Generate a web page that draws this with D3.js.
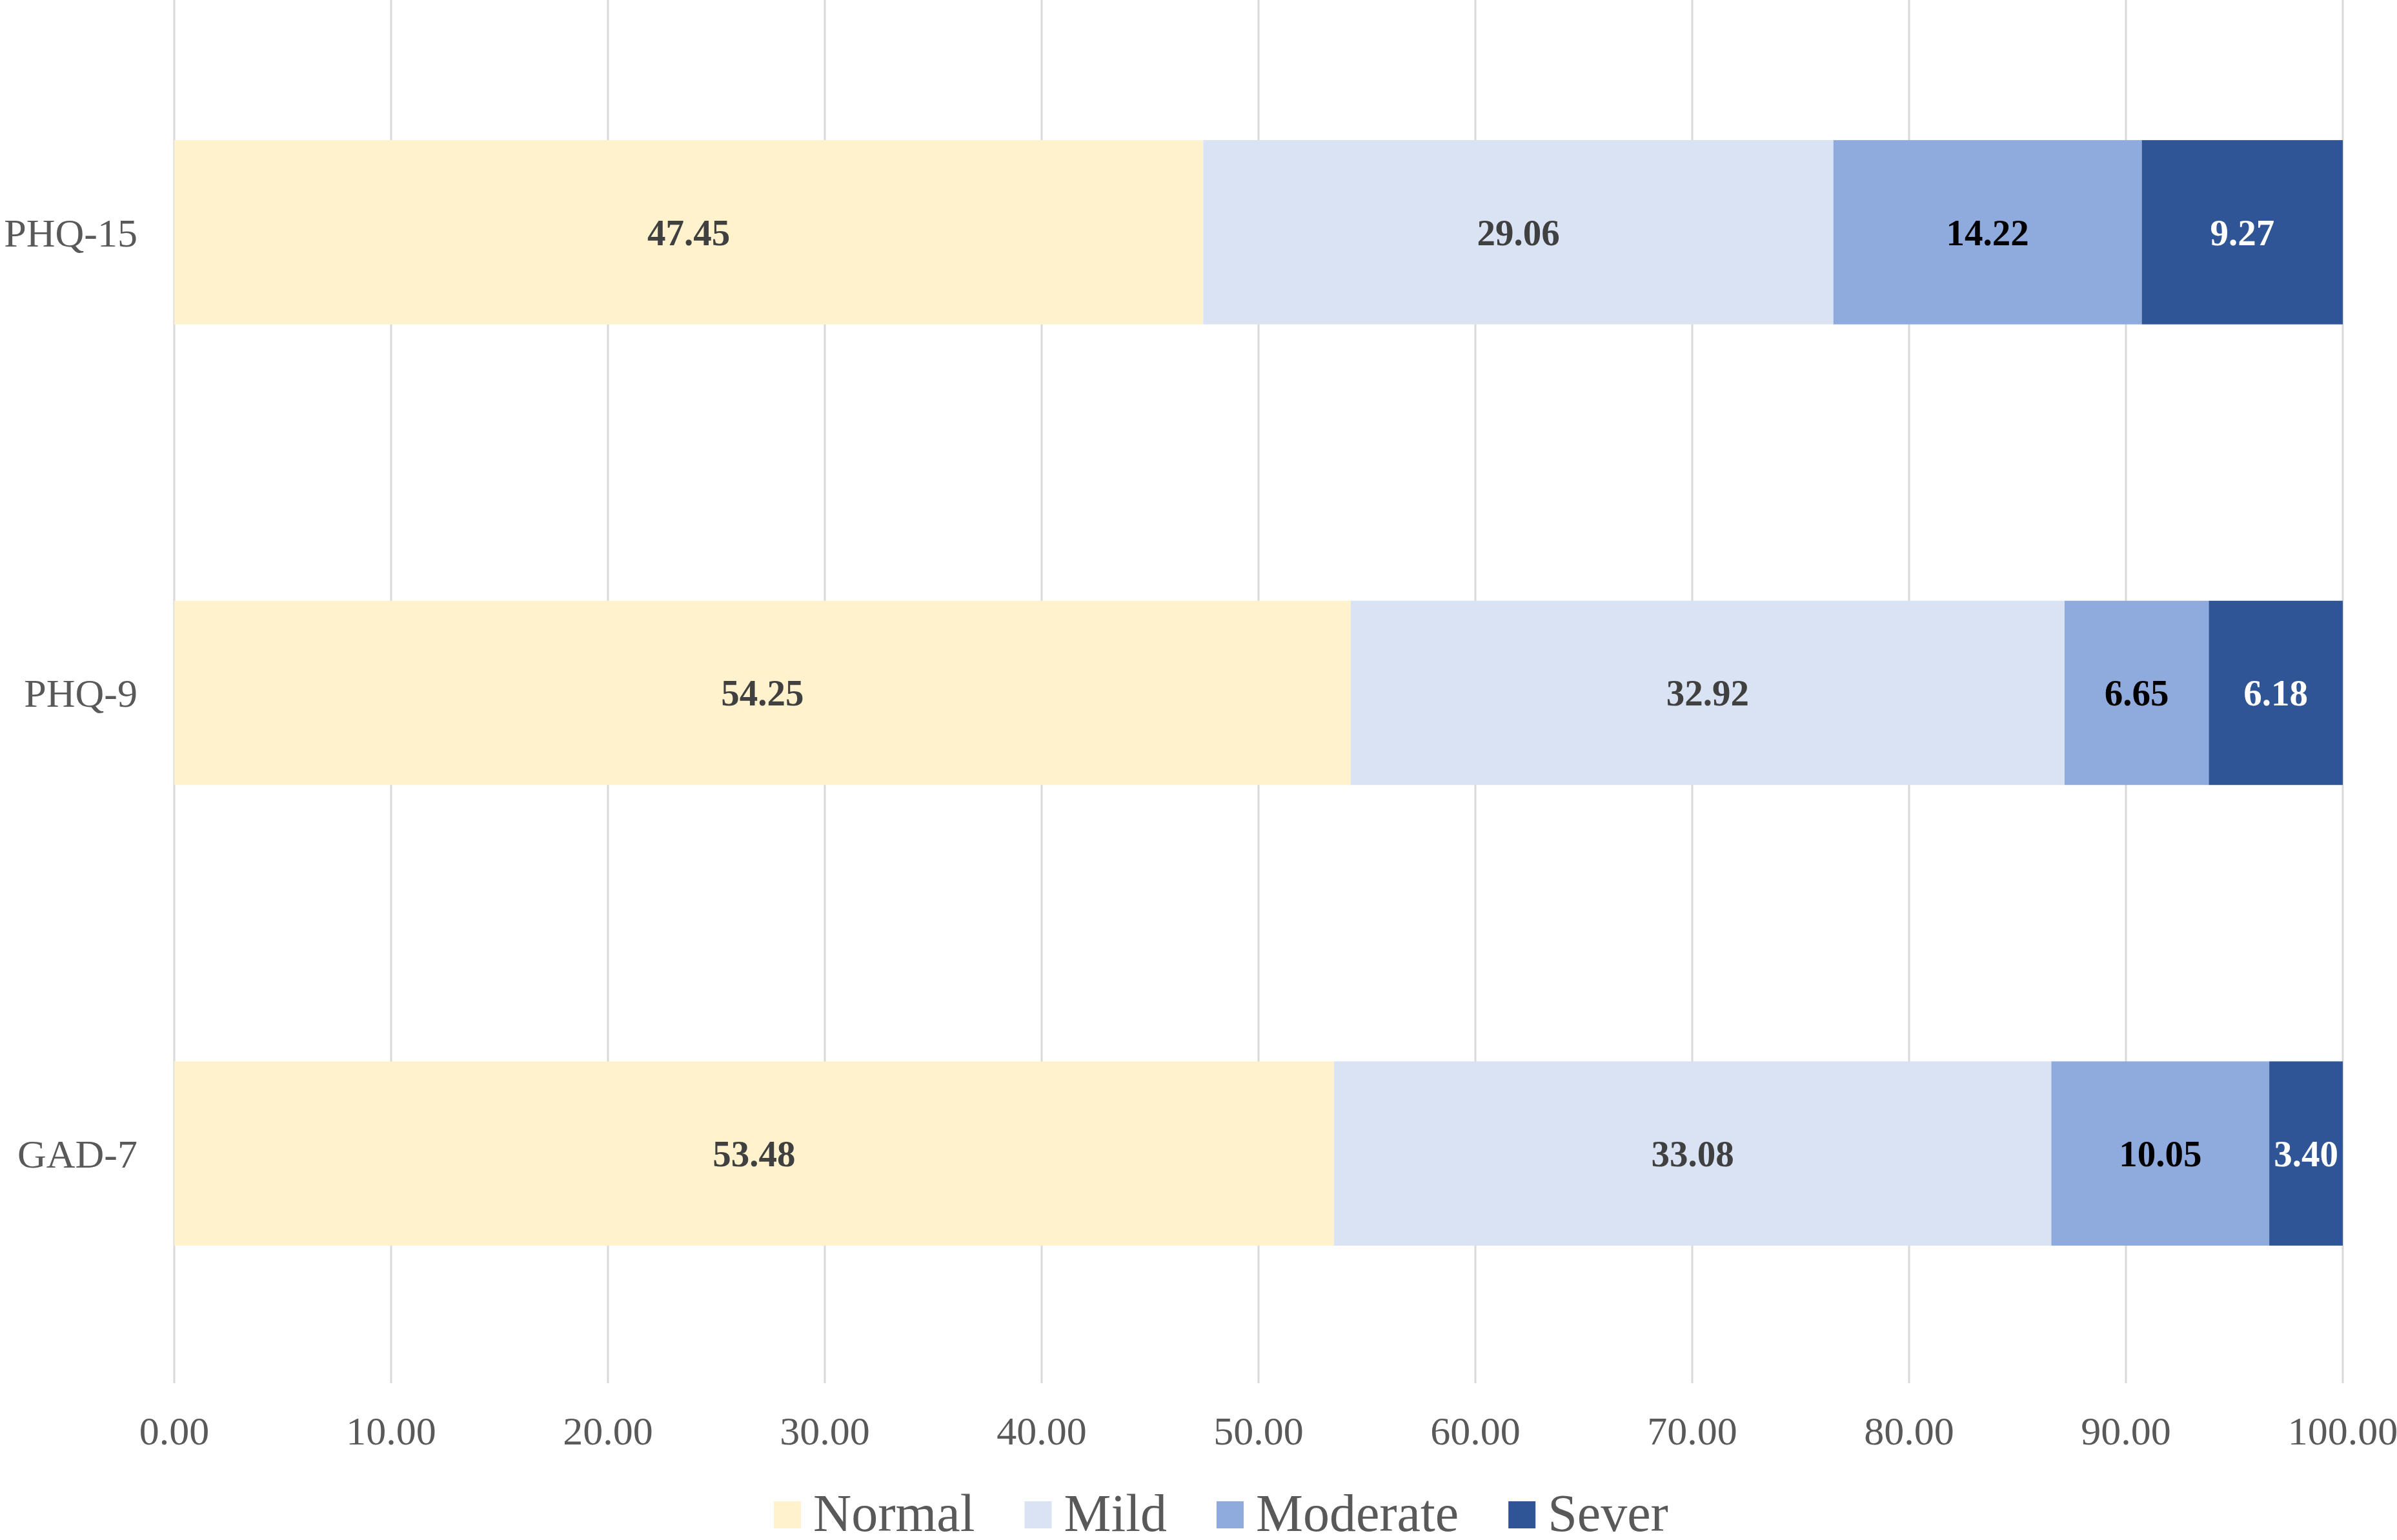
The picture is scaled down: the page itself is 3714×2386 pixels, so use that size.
<!DOCTYPE html>
<html>
<head>
<meta charset="utf-8">
<script src="https://cdn.jsdelivr.net/npm/d3@7/dist/d3.min.js"></script>
<style>
  html, body { margin: 0; padding: 0; background: #ffffff; }
  svg { display: block; }
  text { font-family: "Liberation Serif", "Times New Roman", serif; }
</style>
</head>
<body>
<svg id="chart" width="3714" height="2386"></svg>
<script>
const categories = ["PHQ-15", "PHQ-9", "GAD-7"];
const seriesNames = ["Normal", "Mild", "Moderate", "Sever"];
const normalValues = [47.45, 54.25, 53.48];
const mildValues = [29.06, 32.92, 33.08];
const moderateValues = [14.22, 6.65, 10.05];
const severValues = [9.27, 6.18, 3.40];
const xTicks = [0, 10, 20, 30, 40, 50, 60, 70, 80, 90, 100];
const seriesColors = ["#FFF2CC", "#DAE3F3", "#8FAADC", "#2F5597"];
const labelColors = ["#404040", "#404040", "#000000", "#ffffff"];

(function () {
const seriesValues = [normalValues, mildValues, moderateValues, severValues];
const rows = categories.map((c, i) => {
  const r = { category: c };
  seriesNames.forEach((s, j) => { r[s] = seriesValues[j][i]; });
  return r;
});

const svg = d3.select("#chart");
const plotLeft = 270, plotRight = 3630, plotTop = 3, plotBottom = 2144;

const x = d3.scaleLinear().domain([0, 100]).range([plotLeft, plotRight]);
const y = d3.scaleBand().domain(categories).range([plotTop, plotBottom]).paddingInner(0.6).paddingOuter(0.3);

// gridlines
svg.append("g").selectAll("line").data(xTicks).join("line")
  .attr("x1", d => x(d)).attr("x2", d => x(d))
  .attr("y1", 0).attr("y2", 2143)
  .attr("stroke", "#d9d9d9").attr("stroke-width", 3);

// x tick labels
svg.append("g").selectAll("text").data(xTicks).join("text")
  .attr("x", d => x(d)).attr("y", 2238)
  .attr("text-anchor", "middle")
  .attr("font-size", 62).attr("fill", "#595959")
  .text(d => d.toFixed(2));

// y labels
svg.append("g").selectAll("text").data(categories).join("text")
  .attr("x", 213).attr("y", d => y(d) + y.bandwidth() / 2)
  .attr("dy", "0.35em")
  .attr("text-anchor", "end")
  .attr("font-size", 62).attr("fill", "#595959")
  .text(d => d);

const stacked = d3.stack().keys(seriesNames)(rows);

const layers = svg.append("g").selectAll("g").data(stacked).join("g")
  .attr("fill", (d, i) => seriesColors[i]);

layers.selectAll("rect").data(d => d).join("rect")
  .attr("x", d => x(d[0]))
  .attr("width", d => x(Math.min(d[1], 100)) - x(d[0]))
  .attr("y", d => y(d.data.category))
  .attr("height", y.bandwidth());

// value labels
stacked.forEach((layer, i) => {
  svg.append("g").selectAll("text").data(layer).join("text")
    .attr("x", d => (x(d[0]) + x(Math.min(d[1], 100))) / 2)
    .attr("y", d => y(d.data.category) + y.bandwidth() / 2)
    .attr("dy", "0.35em")
    .attr("text-anchor", "middle")
    .attr("font-size", 57).attr("font-weight", "bold")
    .attr("fill", labelColors[i])
    .text(d => (d[1] - d[0]).toFixed(2));
});

// legend
const legend = svg.append("g");
let lx = 1199;
seriesNames.forEach((s, i) => {
  legend.append("rect").attr("x", lx).attr("y", 2326).attr("width", 42).attr("height", 42)
    .attr("fill", seriesColors[i]);
  const t = legend.append("text").attr("x", lx + 61).attr("y", 2372)
    .attr("font-size", 82).attr("fill", "#595959").text(s);
  lx += 61 + t.node().getComputedTextLength() + 77;
});
})();
</script>
</body>
</html>
